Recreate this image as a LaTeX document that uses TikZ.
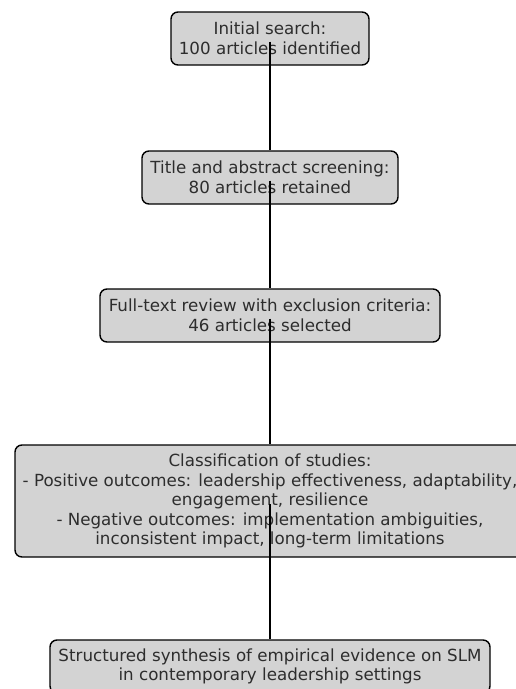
\documentclass[tikz,border=0pt]{standalone}
\usepackage{fontspec}
\setmainfont{DejaVu Sans}
\usepackage{xcolor}

\begin{document}
\begin{tikzpicture}[x=1pt,y=-1pt]
        % Define colors
        \definecolor{boxfill}{RGB}{211,211,211}
        \definecolor{textcolor}{RGB}{45,45,45}
        \tikzset{
            stagebox/.style={draw=black, line width=1.4pt, fill=boxfill, rounded corners=7pt,
                text=textcolor, align=center, inner sep=0pt,
                font=\fontsize{16.7}{19.5}\selectfont}
        }

        % Page frame
        \useasboundingbox (0,0) rectangle (516,689);
        \clip (0,0) rectangle (516,689);

        % Draw boxes
        \node[stagebox, minimum width=198pt, minimum height=53pt] (search) at (270,38.5)
            {Initial search:\\100 articles identified};
        \node[stagebox, minimum width=256pt, minimum height=53pt] (screen) at (270,177.5)
            {Title and abstract screening:\\80 articles retained};
        \node[stagebox, minimum width=340pt, minimum height=53pt] (review) at (270,315.5)
            {Full-text review with exclusion criteria:\\46 articles selected};
        \node[stagebox, minimum width=510pt, minimum height=112pt] (classify) at (270,501)
            {Classification of studies:\\- Positive outcomes: leadership effectiveness, adaptability,\\engagement, resilience\\- Negative outcomes: implementation ambiguities,\\inconsistent impact, long-term limitations};
        \node[stagebox, minimum width=440pt, minimum height=53pt] (synth) at (270,666.5)
            {Structured synthesis of empirical evidence on SLM\\in contemporary leadership settings};

        % Draw connectors
        \foreach \a/\b in {search/screen, screen/review, review/classify, classify/synth}
            \draw[line width=1.8pt] ([yshift=-3pt]\a.center) -- (\b.north);

    \end{tikzpicture}
\end{document}
